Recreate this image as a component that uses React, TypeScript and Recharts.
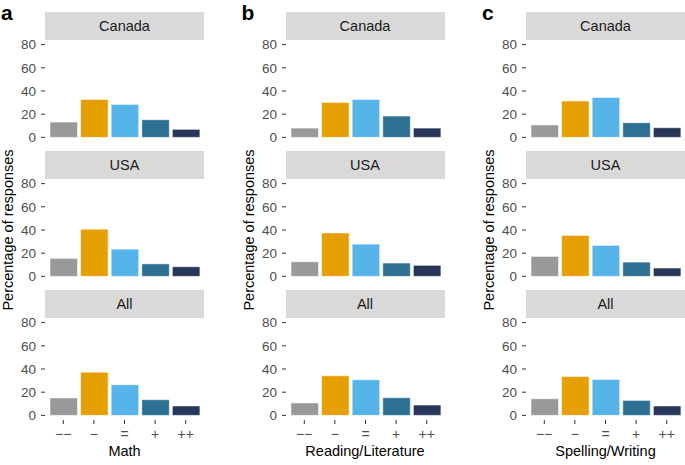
import { CSSProperties } from 'react';
import { Bar, BarChart, Cell, XAxis, YAxis } from 'recharts';

// response categories (change in enjoyment)
const categories = ['−−', '−', '=', '+', '++'];
const regions = ['Canada', 'USA', 'All'];
const subjects = ['Math', 'Reading/Literature', 'Spelling/Writing'];
const panelLetters = ['a', 'b', 'c'];
const yTicks = [0, 20, 40, 60, 80];
const barColors = ['#999999', '#E69F00', '#56B4E9', '#2E7091', '#28365A'];

// percentage of responses, one array per subject x region
const mathCanada = [13.2, 32.7, 28.4, 15.2, 6.9];
const mathUSA = [15.5, 40.7, 23.5, 10.8, 8.3];
const mathAll = [15.0, 37.3, 26.4, 13.5, 8.1];
const readingCanada = [8.0, 30.1, 32.7, 18.4, 8.0];
const readingUSA = [12.6, 37.5, 27.8, 11.5, 9.5];
const readingAll = [10.7, 34.1, 30.7, 15.2, 8.9];
const spellingCanada = [10.7, 31.3, 34.4, 12.6, 8.3];
const spellingUSA = [17.2, 35.3, 26.7, 12.3, 7.2];
const spellingAll = [14.3, 33.5, 31.0, 12.9, 8.1];

const seriesBySubject = [
  [mathCanada, mathUSA, mathAll],
  [readingCanada, readingUSA, readingAll],
  [spellingCanada, spellingUSA, spellingAll],
];

const FONT = '"Liberation Sans", Arial, Helvetica, sans-serif';
const PANEL_LEFT = [45, 285.5, 526];
const PANEL_W = 159;
const STRIP_TOP = [12, 151, 290];
const STRIP_H = 28;
const PLOT_H = 102;
const Y_AXIS_W = 45;
const X_AXIS_H = 22;
const PAD = 8; // room so edge tick labels stay inside the svg

const abs = (left: number, top: number, extra: CSSProperties = {}): CSSProperties => ({
  position: 'absolute',
  left,
  top,
  ...extra,
});

const Facet = ({ values, col, row }: { values: number[]; col: number; row: number }) => {
  const data = categories.map((name, i) => ({ name, value: values[i] }));
  const isBottom = row === 2;
  const left = PANEL_LEFT[col];
  const top = STRIP_TOP[row];
  return (
    <>
      <div
        style={abs(left, top, {
          width: PANEL_W,
          height: STRIP_H,
          background: '#D9D9D9',
          color: '#1A1A1A',
          fontSize: 14.5,
          lineHeight: `${STRIP_H}px`,
          textAlign: 'center',
        })}
      >
        {regions[row]}
      </div>
      <div style={abs(left - Y_AXIS_W, top + STRIP_H - PAD)}>
        <BarChart
          width={Y_AXIS_W + PANEL_W}
          height={PLOT_H + PAD + (isBottom ? X_AXIS_H : PAD)}
          data={data}
          margin={{ top: PAD, right: 0, bottom: isBottom ? 0 : PAD, left: 0 }}
        >
          <XAxis
            dataKey="name"
            hide={!isBottom}
            height={X_AXIS_H}
            padding={{ left: 3, right: 3 }}
            axisLine={false}
            tickSize={4}
            tickMargin={5}
            tickLine={{ stroke: '#333333' }}
            tick={{ fill: '#4D4D4D', fontSize: 14 }}
            interval={0}
          />
          <YAxis
            type="number"
            domain={[-4, 84]}
            allowDataOverflow
            ticks={yTicks}
            interval={0}
            width={Y_AXIS_W}
            axisLine={false}
            tickSize={4}
            tickMargin={5}
            tickLine={{ stroke: '#333333' }}
            tick={{ fill: '#4D4D4D', fontSize: 13.5 }}
          />
          <Bar dataKey="value" barSize={27.5} stroke="#ffffff" strokeWidth={0.5} isAnimationActive={false}>
            {data.map((d, i) => (
              <Cell key={d.name} fill={barColors[i]} />
            ))}
          </Bar>
        </BarChart>
      </div>
    </>
  );
};

export default function App() {
  return (
    <div
      style={{
        position: 'absolute',
        left: 0,
        top: 0,
        width: 685,
        height: 465,
        background: '#ffffff',
        fontFamily: FONT,
      }}
    >
      {subjects.map((subject, col) => (
        <div key={subject}>
          <div
            style={abs(PANEL_LEFT[col] - 44, 0, {
              fontSize: 21,
              fontWeight: 'bold',
              lineHeight: '26px',
              color: '#000',
            })}
          >
            {panelLetters[col]}
          </div>
          <div
            style={abs(PANEL_LEFT[col] - 37 - 100, 230 - 10, {
              width: 200,
              height: 20,
              lineHeight: '20px',
              fontSize: 14.5,
              textAlign: 'center',
              transform: 'rotate(-90deg)',
              color: '#000',
              whiteSpace: 'nowrap',
            })}
          >
            Percentage of responses
          </div>
          <div
            style={abs(PANEL_LEFT[col], 441, {
              width: PANEL_W,
              lineHeight: '20px',
              fontSize: 14.5,
              textAlign: 'center',
              color: '#000',
            })}
          >
            {subject}
          </div>
          {seriesBySubject[col].map((values, row) => (
            <Facet key={regions[row]} values={values} col={col} row={row} />
          ))}
        </div>
      ))}
    </div>
  );
}
